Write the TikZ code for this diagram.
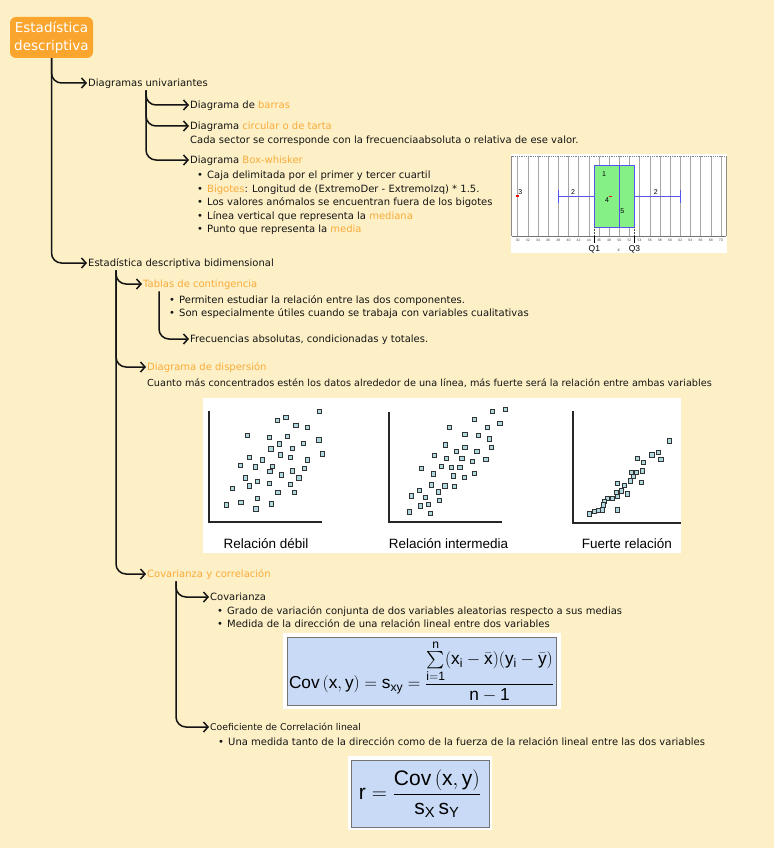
\RequirePackage{fix-cm}
\documentclass[tikz,border=0pt]{standalone}
\usepackage{amsmath}
\usepackage{fontspec}
\setmainfont{DejaVu Sans}
\newfontfamily\arialfont{Liberation Sans}
\setmathrm{Liberation Sans}
\usetikzlibrary{arrows.meta}

\definecolor{paper}{HTML}{FDF0C6}
\definecolor{ink}{HTML}{141414}
\definecolor{accent}{HTML}{F9AB3A}
\definecolor{titlefill}{HTML}{F9A52E}
\definecolor{boxgreen}{HTML}{85F085}
\definecolor{boxblue}{HTML}{5555EE}
\definecolor{formblue}{HTML}{C8DAF5}
\definecolor{markfill}{HTML}{B0DAE0}

\newcommand\hl[1]{\textcolor{accent}{#1}}
\newcommand\bul{\makebox[10pt][l]{\textbullet}}

\begin{document}
\begin{tikzpicture}[x=1pt,y=-1pt,
  txt/.style={anchor=west,inner sep=1pt,text=ink,font=\fontsize{10}{12}\selectfont,text height=10pt,text depth=2.2pt},
  small/.style={txt,font=\fontsize{9.3}{11}\selectfont},
  branch/.style={draw=ink,line width=1.5pt,rounded corners=10pt,-{Straight Barb[length=4.5pt,width=10pt]}},
  axisline/.style={draw=black!85,line width=1.3pt},
  dot/.style={draw=black!80,fill=markfill,line width=0.7pt,minimum size=4.3pt,inner sep=0pt},
  plotlbl/.style={font=\arialfont\fontsize{13.5}{15}\selectfont,inner sep=0pt},
  bwlbl/.style={font=\arialfont\fontsize{7}{8}\selectfont,inner sep=0pt}]

\fill[paper] (0,0) rectangle (774,848);
\useasboundingbox (0,0) rectangle (774,848);

% root and first level
\node[fill=titlefill,rounded corners=6pt,minimum width=83pt,minimum height=41pt,inner sep=0pt,
  text=white,align=center,font=\fontsize{13.5}{18}\selectfont] (root) at (51.5,37.5) {Estadística\\descriptiva};
\node[txt] (univ) at (87,83) {Diagramas univariantes};
\node[txt] (bidim) at (87,263) {Estadística descriptiva bidimensional};
\draw[branch] (root.south) |- (univ.west);
\draw[branch] (root.south) |- (bidim.west);

% univariantes
\node[txt] (barras) at (189,105) {Diagrama de \hl{barras}};
\node[txt] (tarta) at (189,126) {Diagrama \hl{circular o de tarta}};
\node[txt] (sector) at (189,140) {Cada sector se corresponde con la frecuenciaabsoluta o relativa de ese valor.};
\node[txt] (boxw) at (189,160) {Diagrama \hl{Box-whisker}};
\draw[branch] ([xshift=59pt]univ.south west) |- (barras.west);
\draw[branch] ([xshift=59pt]univ.south west) |- (tarta.west);
\draw[branch] ([xshift=59pt]univ.south west) |- (boxw.west);
\foreach \yy/\btxt [count=\k] in {175/{Caja delimitada por el primer y tercer cuartil},
    189/{\hl{Bigotes}: Longitud de (ExtremoDer - ExtremoIzq) * 1.5.},
    202/{Los valores anómalos se encuentran fuera de los bigotes},
    216/{Línea vertical que representa la \hl{mediana}},
    229/{Punto que representa la \hl{media}}}
  \node[txt] (bw\k) at (196,\yy) {\bul\btxt};

% box-whisker picture
\fill[white] (511,154) rectangle (727,253);
\begin{scope}[xshift=365.3pt,x=5.08pt]
  \foreach \v in {30,32,...,70} {
    \draw[black!35,line width=0.5pt] (\v,156) -- (\v,236);
    \node[font=\arialfont\fontsize{3.5}{4}\selectfont,inner sep=0pt,text=black!70] (tk\v) at (\v,240.5) {\v};
  }
  \draw[black!45,line width=0.6pt] (28.8,156) -- (28.8,236) (71,156) -- (71,236);
  \draw[black!50,densely dotted,line width=0.8pt] (28.8,156) -- (71,156);
  \draw[black!55,line width=0.6pt] (28.8,236) -- (71,236);
  \draw[boxblue,line width=0.9pt] (38,196) -- (45.1,196) (53,196) -- (62,196);
  \draw[boxblue,line width=1pt] (38,189.5) -- (38,203) (62,189.5) -- (62,203);
  \draw[boxblue,fill=boxgreen,line width=0.9pt] (45.1,165) rectangle (53,227);
  \draw[boxblue,line width=0.9pt] (50,165) -- (50,227);
  \fill[red] (29.7,195.3) rectangle (30.3,196.8);
  \fill[red] (48.0,195.6) rectangle (48.5,196.9);
  \draw[black!70,densely dotted,line width=0.5pt] (45.1,227) -- (45.1,236) (53,227) -- (53,236);
  \draw[black,line width=0.8pt] (45.1,236) -- (45.1,243) (53,236) -- (53,243);
  \node[bwlbl] (n1) at (47.0,174) {1};
  \node[bwlbl] (n4) at (47.6,200) {4};
  \node[bwlbl] (n5) at (50.6,211) {5};
  \node[bwlbl] (n2a) at (40.9,191.7) {2};
  \node[bwlbl] (n2b) at (57.2,191.7) {2};
  \node[bwlbl] (n3) at (30.5,191.7) {3};
  \node[font=\arialfont\fontsize{8.5}{9}\selectfont,inner sep=0pt] (q1) at (45.1,249.5) {Q1};
  \node[font=\arialfont\fontsize{8.5}{9}\selectfont,inner sep=0pt] (q3) at (53,249.5) {Q3};
  \node[font=\fontsize{4}{5}\selectfont,inner sep=0pt] (xm) at (49.9,250.5) {$\bar{x}$};
\end{scope}

% bidimensional
\node[txt] (tablas) at (142,284) {\hl{Tablas de contingencia}};
\node[txt] (perm) at (168,300) {\bul Permiten estudiar la relación entre las dos componentes.};
\node[txt] (util) at (168,313) {\bul Son especialmente útiles cuando se trabaja con variables cualitativas};
\node[txt] (frec) at (189,339) {Frecuencias absolutas, condicionadas y totales.};
\node[txt] (disp) at (146,367) {\hl{Diagrama de dispersión}};
\node[txt,font=\fontsize{9.7}{12}\selectfont] (cuanto) at (146,383) {Cuanto más concentrados estén los datos alrededor de una línea, más fuerte será la relación entre ambas variables};
\node[txt] (covcor) at (146,574) {\hl{Covarianza y correlación}};
\draw[branch] ([xshift=29pt]bidim.south west) |- (tablas.west);
\draw[branch] ([xshift=29pt]bidim.south west) |- (disp.west);
\draw[branch] ([xshift=29pt]bidim.south west) |- (covcor.west);
\draw[branch] ([xshift=17pt]tablas.south west) |- (frec.west);

% scatter plots
\fill[white] (203,398) rectangle (681,553);
\draw[axisline] (209,411) |- (322,522);
\draw[axisline] (389,412) |- (502,522);
\draw[axisline] (573,411) |- (681,523);
\begin{scope}[shift={(200,395)},x=0.3333pt,y=-0.3333pt]
  \foreach \px/\py [count=\k] in {358/50,258/66,232/75,288/90,323/98,142/122,208/127,263/125,357/135,238/147,
      310/145,213/162,278/160,367/177,148/187,187/195,242/180,272/187,323/195,122/212,167/216,218/214,
      210/230,278/228,314/220,136/249,245/240,297/249,173/260,149/273,208/266,272/268,97/280,234/292,
      284/292,173/310,80/330,123/322,215/327,168/342}
    \node[dot] (sa\k) at (\px,\py) {};
\end{scope}
\begin{scope}[shift={(380,395)},x=0.3333pt,y=-0.3333pt]
  \foreach \px/\py [count=\k] in {376/44,337/48,284/73,360/85,208/96,322/96,255/118,295/122,328/132,197/150,
      255/158,334/157,230/170,291/170,163/182,200/190,246/190,277/200,318/193,124/220,185/214,214/217,
      240/217,160/237,220/243,253/247,284/235,153/270,195/273,224/274,118/287,174/291,94/303,136/307,
      177/316,122/333,146/328,87/351,151/355}
    \node[dot] (sb\k) at (\px,\py) {};
\end{scope}
\begin{scope}[shift={(560,395)},x=0.3333pt,y=-0.3333pt]
  \foreach \px/\py [count=\k] in {328/138,295/172,276/180,303/193,233/190,250/202,246/228,230/232,214/232,
      220/245,245/262,212/258,172/266,192/272,183/288,168/292,202/297,157/310,143/310,172/305,133/320,
      130/330,128/345,116/347,102/350,88/357,172/345}
    \node[dot] (sc\k) at (\px,\py) {};
\end{scope}
\node[plotlbl] (weak) at (266,544) {Relación débil};
\node[plotlbl] (mid) at (448.5,544) {Relación intermedia};
\node[plotlbl] (strong) at (627,544) {Fuerte relación};

% covarianza y correlacion
\node[txt] (cov) at (209,597) {Covarianza};
\node[txt] (grado) at (216,611) {\bul Grado de variación conjunta de dos variables aleatorias respecto a sus medias};
\node[txt] (medida) at (216,624) {\bul Medida de la dirección de una relación lineal entre dos variables};
\node[small] (coef) at (209,727) {Coeficiente de Correlación lineal};
\node[txt] (tanto) at (217,742) {\bul Una medida tanto de la dirección como de la fuerza de la relación lineal entre las dos variables};
\draw[branch] ([xshift=30pt]covcor.south west) |- (cov.west);
\draw[branch] ([xshift=30pt]covcor.south west) |- (coef.west);

\fill[white] (283,633) rectangle (561,709);
\node[draw=black!55,fill=formblue,line width=0.8pt,minimum width=269pt,minimum height=68pt,inner sep=0pt,
  font=\fontsize{17.3}{20}\selectfont] (covf) at (421.5,671)
  {$\mathrm{Cov\,(x,y)}=\mathrm{s_{xy}}=\dfrac{\sum\limits_{\mathrm{i=1}}^{\mathrm{n}}(\mathrm{x_i}-\bar{\mathrm{x}})(\mathrm{y_i}-\bar{\mathrm{y}})}{\mathrm{n}-\mathrm{1}}$};
\fill[white] (348,756) rectangle (492,830);
\node[draw=black!55,fill=formblue,line width=0.8pt,minimum width=138pt,minimum height=67pt,inner sep=0pt,
  font=\fontsize{21}{24}\selectfont] (rf) at (420,793.5)
  {$\mathrm{r=\dfrac{Cov\,(x,y)}{s_X\,s_Y}}$};
\end{tikzpicture}
\end{document}
